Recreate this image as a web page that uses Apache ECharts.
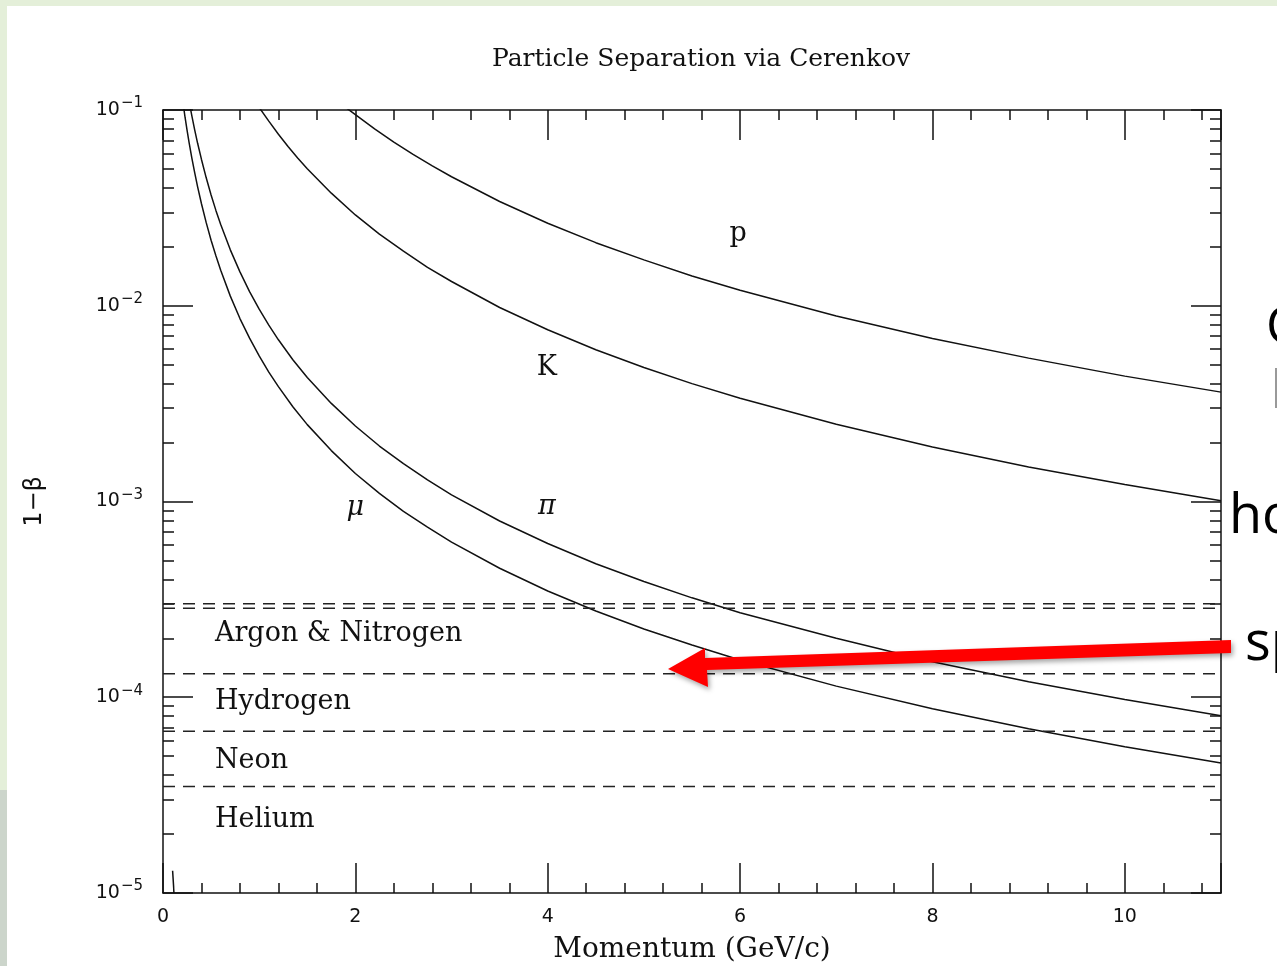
<!DOCTYPE html>
<html>
<head>
<meta charset="utf-8">
<script src="https://cdn.jsdelivr.net/npm/echarts@6/dist/echarts.min.js"></script>
<style>
  html, body { margin: 0; padding: 0; background: #fff; }
  #chart { width: 1277px; height: 966px; }
</style>
</head>
<body>
<div id="chart"></div>
<script>
// 1 - beta, momentum in GeV/c
const muonP = [0.21, 0.23, 0.25, 0.27, 0.3, 0.33, 0.36, 0.4, 0.45, 0.5, 0.55, 0.6, 0.7, 0.8, 0.9, 1, 1.1, 1.2, 1.35, 1.5, 1.75, 2, 2.25, 2.5, 2.75, 3, 3.5, 4, 4.5, 5, 5.5, 6, 7, 8, 9, 10, 11];
const muonB = [0.107, 0.0913, 0.079, 0.0688, 0.0568, 0.0477, 0.0405, 0.0332, 0.0265, 0.0216, 0.018, 0.0152, 0.0112, 0.0086, 0.00683, 0.00554, 0.00458, 0.00386, 0.00305, 0.00247, 0.00182, 0.00139, 0.0011, 0.00089, 0.00074, 0.00062, 0.000456, 0.000349, 0.000276, 0.000223, 0.000185, 0.000155, 0.000114, 0.0000873, 0.000069, 0.0000559, 0.0000462];

const pionP = [0.28, 0.3, 0.33, 0.36, 0.4, 0.45, 0.5, 0.55, 0.6, 0.7, 0.8, 0.9, 1, 1.1, 1.2, 1.35, 1.5, 1.75, 2, 2.25, 2.5, 2.75, 3, 3.5, 4, 4.5, 5, 5.5, 6, 7, 8, 9, 10, 11];
const pionB = [0.105, 0.0934, 0.079, 0.0676, 0.0559, 0.0449, 0.0368, 0.0307, 0.026, 0.0193, 0.0149, 0.0118, 0.0096, 0.00796, 0.0067, 0.0053, 0.0043, 0.00317, 0.00243, 0.00192, 0.00156, 0.00129, 0.00108, 0.000795, 0.00061, 0.000481, 0.00039, 0.000322, 0.00027, 0.0002, 0.000152, 0.00012, 0.0000975, 0.0000805];

const kaonP = [1.0, 1.1, 1.2, 1.3, 1.4, 1.5, 1.75, 2, 2.25, 2.5, 2.75, 3, 3.5, 4, 4.5, 5, 5.5, 6, 7, 8, 9, 10, 11];
const kaonB = [0.103, 0.0877, 0.0752, 0.0651, 0.0569, 0.0501, 0.0376, 0.0291, 0.0232, 0.019, 0.0157, 0.0133, 0.0098, 0.00754, 0.00596, 0.00484, 0.004, 0.00337, 0.00248, 0.0019, 0.0015, 0.00122, 0.00101];

const protonP = [1.9, 2, 2.2, 2.4, 2.6, 2.8, 3, 3.5, 4, 4.5, 5, 5.5, 6, 7, 8, 9, 10, 11];
const protonB = [0.103, 0.0947, 0.0801, 0.0686, 0.0593, 0.0518, 0.0456, 0.0341, 0.0264, 0.021, 0.01715, 0.0142, 0.012, 0.00886, 0.0068, 0.0054, 0.00437, 0.00362];

const electronP = [0.1, 0.114];
const electronB = [0.000013, 0.00001];

// gas thresholds (n - 1)
const gasThreshold = [0.0003, 0.000285, 0.000132, 0.000067, 0.000035];

const gasLabels = ['Argon & Nitrogen', 'Hydrogen', 'Neon', 'Helium'];
const gasLabelAt = [[0.54, 0.00021], [0.54, 0.0000946], [0.54, 0.0000472], [0.54, 0.0000236]];
const particleLabels = ['p', 'K', 'π', 'μ'];
const particleLabelAt = [[5.98, 0.0233], [3.99, 0.00481], [3.99, 0.000937], [2.0, 0.00093]];

const serif = '"DejaVu Serif", serif';
const sans = '"DejaVu Sans", sans-serif';
const ink = '#111';

const zip = (xs, ys) => xs.map((x, i) => [x, ys[i]]);

const chart = echarts.init(document.getElementById('chart'));

const xBase = (pos, major) => ({
    type: 'value', position: pos, min: 0, max: 11,
    interval: major ? 2 : 0.4,
    axisLine: { show: major, onZero: false, lineStyle: { color: ink, width: 1.5 } },
    axisTick: { show: true, inside: true, length: major ? 30 : 10, lineStyle: { color: ink, width: 1.5 } },
    axisLabel: {
        show: major && pos === 'bottom', margin: 15, color: ink, fontFamily: sans, fontSize: 19,
        formatter: v => (v === 11 ? '' : String(v))
    },
    splitLine: { show: false }
});

const yBase = (pos) => ({
    type: 'log', logBase: 10, position: pos, min: 0.00001, max: 0.1,
    axisLine: { show: true, onZero: false, lineStyle: { color: ink, width: 1.5 } },
    axisTick: { show: true, inside: true, length: 30, lineStyle: { color: ink, width: 1.5 } },
    minorTick: { show: true, splitNumber: 9, length: 11, lineStyle: { color: ink, width: 1.5 } },
    axisLabel: {
        show: pos === 'left', margin: 20, color: ink,
        formatter: v => '{b|10}{e|−' + Math.abs(Math.round(Math.log10(v))) + '}',
        rich: {
            b: { fontFamily: sans, fontSize: 19, color: ink },
            e: { fontFamily: sans, fontSize: 15, color: ink, padding: [0, 0, 13, 1] }
        }
    },
    splitLine: { show: false }
});

const curve = (name, xs, ys) => ({
    name, type: 'line', data: zip(xs, ys), showSymbol: false, symbol: 'none',
    smooth: false, clip: true,
    lineStyle: { color: ink, width: 1.5 }
});

const dashed = (v, i) => ({
    name: 'gas' + i, type: 'line', data: [[0, v], [11, v]], showSymbol: false, symbol: 'none',
    lineStyle: { color: '#222', width: 1.5, type: [12, 8] }
});

const yLeft = yBase('left');
yLeft.name = '1−β';
yLeft.nameLocation = 'middle';
yLeft.nameGap = 116;
yLeft.nameTextStyle = { fontFamily: sans, fontSize: 24, color: ink };

const xBottom = xBase('bottom', true);
xBottom.name = 'Momentum (GeV/c)';
xBottom.nameLocation = 'middle';
xBottom.nameGap = 43;
xBottom.nameTextStyle = { fontFamily: serif, fontSize: 28, color: ink };

chart.setOption({
    backgroundColor: '#fff',
    animation: false,
    title: {
        text: 'Particle Separation via Cerenkov',
        left: 487, top: 42,
        textStyle: { fontFamily: serif, fontWeight: 'normal', fontSize: 25, color: ink }
    },
    grid: { left: 163, top: 110, right: 56, bottom: 73, outerBoundsMode: 'none', containLabel: false },
    xAxis: [xBottom, xBase('bottom', false), xBase('top', true), xBase('top', false)],
    yAxis: [yLeft, yBase('right')],
    series: [
        curve('μ', muonP, muonB),
        curve('π', pionP, pionB),
        curve('K', kaonP, kaonB),
        curve('p', protonP, protonB),
        curve('e', electronP, electronB)
    ].concat(gasThreshold.map(dashed))
});

// text labels placed through the axes
const toPx = (pt) => chart.convertToPixel({ xAxisIndex: 0, yAxisIndex: 0 }, pt);
const labelFont = '27px ' + serif;

const graphics = [
    { type: 'rect', shape: { x: 0, y: 0, width: 1277, height: 6 }, style: { fill: '#e4efd9' }, silent: true },
    { type: 'rect', shape: { x: 0, y: 0, width: 7, height: 790 }, style: { fill: '#e4efd9' }, silent: true },
    { type: 'rect', shape: { x: 0, y: 790, width: 7, height: 176 }, style: { fill: '#ccd5cb' }, silent: true },
    { type: 'text', x: 1266, y: 302, style: { text: 'C', font: '52px "Open Sans", sans-serif', fill: '#000' }, silent: true },
    { type: 'rect', shape: { x: 1275, y: 368, width: 2, height: 40 }, style: { fill: '#999' }, silent: true },
    { type: 'text', x: 1229, y: 491, style: { text: 'ho', font: '54px "Open Sans", sans-serif', fill: '#000' }, silent: true },
    { type: 'text', x: 1245, y: 618, style: { text: 'sp', font: '54px "Open Sans", sans-serif', fill: '#000' }, silent: true }
];

gasLabels.forEach((t, i) => {
    const [x, y] = toPx(gasLabelAt[i]);
    graphics.push({ type: 'text', x, y, silent: true,
        style: { text: t, font: labelFont, fill: ink, textAlign: 'left', textVerticalAlign: 'middle' } });
});
particleLabels.forEach((t, i) => {
    const [x, y] = toPx(particleLabelAt[i]);
    const greek = t === 'π' || t === 'μ';
    graphics.push({ type: 'text', x, y, silent: true,
        style: { text: t, font: (greek ? 'italic ' : '') + labelFont, fill: ink, textAlign: 'center', textVerticalAlign: 'middle' } });
});

graphics.push({
    type: 'polygon', z: 100, silent: true,
    shape: { points: [[668, 669], [705, 648], [705, 658], [1231, 640], [1231, 653], [707, 670], [708, 687]] },
    style: { fill: '#ff0000', shadowBlur: 5, shadowOffsetX: 2, shadowOffsetY: 3, shadowColor: 'rgba(0,0,0,0.35)' }
});

chart.setOption({ graphic: graphics });
</script>
</body>
</html>
